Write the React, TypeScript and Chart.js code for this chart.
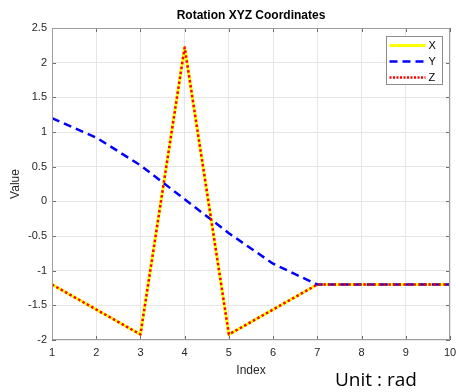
import React, { useEffect, useRef } from "react";
import { Chart, registerables } from "chart.js";

Chart.register(...registerables);

const indices = [1, 2, 3, 4, 5, 6, 7, 8, 9, 10];
const xValues = [-1.2, -1.56, -1.92, 2.22, -1.92, -1.56, -1.2, -1.2, -1.2, -1.2];
const yValues = [1.2, 0.92, 0.52, 0.03, -0.46, -0.9, -1.2, -1.2, -1.2, -1.2];
const zValues = [-1.2, -1.56, -1.92, 2.22, -1.92, -1.56, -1.2, -1.2, -1.2, -1.2];
const seriesNames = ["X", "Y", "Z"];
const xTickValues = [1, 2, 3, 4, 5, 6, 7, 8, 9, 10];
const yTickValues = [-2, -1.5, -1, -0.5, 0, 0.5, 1, 1.5, 2, 2.5];

const FONT = "'Liberation Sans', Arial, Helvetica, sans-serif";
const TEXT = "#262626";

const boxPlugin = {
  id: "matlabBox",
  afterDatasetsDraw(chart: any) {
    const { ctx, chartArea: a, scales } = chart;
    ctx.save();
    ctx.setLineDash([]);
    ctx.strokeStyle = "#6e6e6e";
    ctx.lineWidth = 1;
    const tl = 4;
    xTickValues.forEach((v) => {
      const px = Math.round(scales.x.getPixelForValue(v)) + 0.5;
      ctx.beginPath();
      ctx.moveTo(px, a.bottom);
      ctx.lineTo(px, a.bottom - tl);
      ctx.moveTo(px, a.top);
      ctx.lineTo(px, a.top + tl);
      ctx.stroke();
    });
    yTickValues.forEach((v) => {
      const py = Math.round(scales.y.getPixelForValue(v)) + 0.5;
      ctx.beginPath();
      ctx.moveTo(a.left, py);
      ctx.lineTo(a.left + tl, py);
      ctx.moveTo(a.right, py);
      ctx.lineTo(a.right - tl, py);
      ctx.stroke();
    });
    ctx.strokeStyle = "#9e9e9e";
    ctx.lineWidth = 1;
    ctx.strokeRect(
      Math.round(a.left) + 0.5,
      Math.round(a.top) + 0.5,
      Math.round(a.right - a.left) - 1,
      Math.round(a.bottom - a.top) - 1
    );
    ctx.restore();
  },
  afterDraw(chart: any) {
    const { ctx, chartArea: a } = chart;
    const w = 56;
    const h = 48;
    const bx = Math.round(a.right - 8 - w) + 0.5;
    const by = Math.round(a.top + 8) + 0.5;
    ctx.save();
    ctx.fillStyle = "#ffffff";
    ctx.fillRect(bx, by, w, h);
    ctx.strokeStyle = "#8c8c8c";
    ctx.lineWidth = 1;
    ctx.setLineDash([]);
    ctx.strokeRect(bx, by, w, h);
    [0, 1, 2].forEach((i) => {
      const ds = chart.data.datasets[i];
      const cy = by + 9 + i * 16;
      ctx.save();
      ctx.strokeStyle = ds.borderColor;
      ctx.lineWidth = ds.borderWidth;
      ctx.setLineDash(ds.legendDash || []);
      ctx.beginPath();
      ctx.moveTo(bx + 3, cy);
      ctx.lineTo(bx + 39, cy);
      ctx.stroke();
      ctx.restore();
      ctx.fillStyle = "#000000";
      ctx.font = `11px ${FONT}`;
      ctx.textBaseline = "middle";
      ctx.textAlign = "left";
      ctx.fillText(ds.label, bx + 42, cy + 0.5);
    });
    ctx.restore();
  },
};

export default function App() {
  const ref = useRef<HTMLCanvasElement | null>(null);

  useEffect(() => {
    if (!ref.current) return;
    const toPts = (vals: number[]) => indices.map((x, i) => ({ x, y: vals[i] }));
    const chart = new Chart(ref.current, {
      type: "line",
      data: {
        datasets: [
          {
            label: seriesNames[0],
            data: toPts(xValues),
            borderColor: "#ffff00",
            borderWidth: 3,
            borderJoinStyle: "round",
            pointRadius: 0,
            tension: 0,
            order: 3,
            legendDash: [],
          } as any,
          {
            label: seriesNames[1],
            data: toPts(yValues),
            borderColor: "#0000ff",
            borderWidth: 2.5,
            borderDash: [8, 5],
            borderJoinStyle: "round",
            pointRadius: 0,
            tension: 0,
            order: 2,
            legendDash: [8, 5],
          } as any,
          {
            label: seriesNames[2],
            data: toPts(zValues),
            borderColor: "#ff0000",
            borderWidth: 2.5,
            borderDash: [2.5, 2.5],
            borderJoinStyle: "round",
            pointRadius: 0,
            tension: 0,
            order: 1,
            legendDash: [2, 1.5],
          } as any,
        ],
      },
      options: {
        responsive: false,
        animation: false,
        events: [],
        layout: { padding: { right: 6 } },
        plugins: {
          legend: { display: false },
          tooltip: { enabled: false },
          title: {
            display: true,
            text: "Rotation XYZ Coordinates",
            fullSize: false,
            color: "#000000",
            font: { family: FONT, size: 12, weight: "bold" },
            padding: { top: 8, bottom: 5.6 },
          },
        },
        scales: {
          x: {
            type: "linear",
            min: 1,
            max: 10,
            afterBuildTicks: (s: any) => {
              s.ticks = xTickValues.map((v) => ({ value: v }));
            },
            ticks: {
              color: TEXT,
              font: { family: FONT, size: 11 },
              padding: 6,
              maxRotation: 0,
              autoSkip: false,
            },
            grid: { color: "#e6e6e6", drawTicks: false },
            border: { display: false },
            title: {
              display: true,
              text: "Index",
              color: TEXT,
              font: { family: FONT, size: 12 },
              padding: { top: 0, bottom: 14 },
            },
            afterFit: (s: any) => {
              s.height = 52;
              s.paddingLeft = 0;
              s.paddingRight = 0;
            },
          },
          y: {
            type: "linear",
            min: -2,
            max: 2.5,
            afterBuildTicks: (s: any) => {
              s.ticks = yTickValues.map((v) => ({ value: v }));
            },
            ticks: {
              color: TEXT,
              font: { family: FONT, size: 11 },
              padding: 5,
              autoSkip: false,
              callback: (v: any) => String(v),
            },
            grid: { color: "#e6e6e6", drawTicks: false },
            border: { display: false },
            title: {
              display: true,
              text: "Value",
              color: TEXT,
              font: { family: FONT, size: 12 },
              padding: { top: 8, bottom: 0 },
            },
            afterFit: (s: any) => {
              s.width = 52;
              s.paddingTop = 0;
              s.paddingBottom = 0;
            },
          },
        },
      } as any,
      plugins: [boxPlugin],
    });
    return () => chart.destroy();
  }, []);

  return (
    <div
      style={{
        position: "fixed",
        left: 0,
        top: 0,
        width: 456,
        height: 392,
        background: "#ffffff",
        overflow: "hidden",
      }}
    >
      <canvas ref={ref} width={456} height={392} style={{ width: 456, height: 392, display: "block" }} />
      <div
        style={{
          position: "absolute",
          left: 335,
          top: 370,
          fontFamily: "'Open Sans', 'Noto Sans', sans-serif",
          fontSize: 19,
          lineHeight: "19px",
          color: "#000000",
          whiteSpace: "nowrap",
        }}
      >
        Unit : rad
      </div>
    </div>
  );
}
